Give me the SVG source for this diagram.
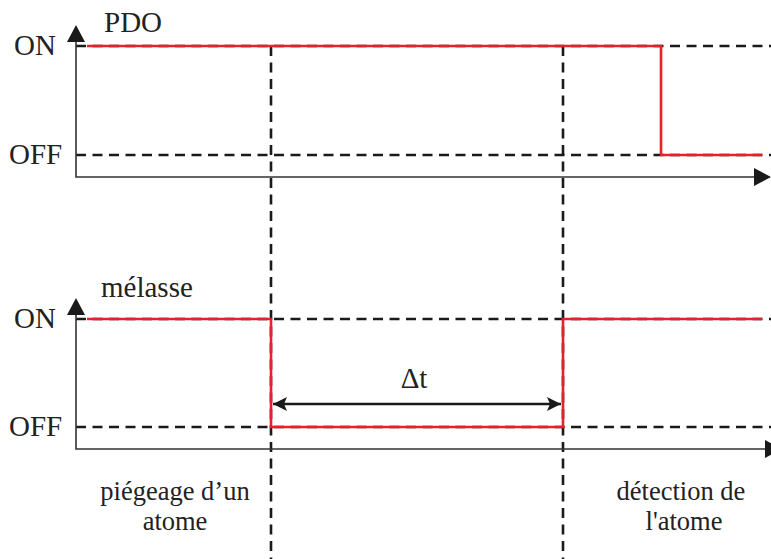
<svg xmlns="http://www.w3.org/2000/svg" width="771" height="559" viewBox="0 0 771 559">
<style>
.dash{stroke:#1a1a1a;stroke-width:2.6;stroke-dasharray:10 6.5;fill:none}
.axis{stroke:#333;stroke-width:1.6;fill:none}
.sig{stroke:#e8202a;stroke-width:2.6;fill:none}
</style>
<defs>
<marker id="ah" viewBox="0 0 14 14" refX="14" refY="7" markerWidth="14" markerHeight="14" markerUnits="userSpaceOnUse" orient="auto-start-reverse"><path d="M0,0 L14,7 L0,14 L3,7 z" fill="#1a1a1a"/></marker>
</defs>
<rect width="771" height="559" fill="#fff"/>
<g id="grid">
<line class="dash" x1="76" y1="46" x2="771" y2="46"/>
<line class="dash" x1="76" y1="155" x2="771" y2="155"/>
<line class="dash" x1="76" y1="319" x2="771" y2="319"/>
<line class="dash" x1="76" y1="427" x2="771" y2="427"/>
<line class="dash" x1="271" y1="46" x2="271" y2="559"/>
<line class="dash" x1="563" y1="46" x2="563" y2="559"/>
</g>
<g id="axes">
<polyline class="axis" points="76,40 76,177 760,177"/>
<path d="M67,42 L76,25 L85,42 z" fill="#1a1a1a"/>
<path d="M754,168 L771,177 L754,186 z" fill="#1a1a1a"/>
<polyline class="axis" points="76,313 76,449 766,449"/>
<path d="M67,315 L76,298 L85,315 z" fill="#1a1a1a"/>
<path d="M765,440 L782,449 L765,458 z" fill="#1a1a1a"/>
</g>
<g id="pdo-signal">
<polyline class="sig" points="87,46 661,46 661,155 762,155"/>
</g>
<g id="melasse-signal">
<polyline class="sig" points="87,319 271,319 271,427 563,427 563,319 762,319"/>
</g>
<g id="connectors">
<line x1="273" y1="404" x2="561" y2="404" stroke="#1a1a1a" stroke-width="2.4" marker-start="url(#ah)" marker-end="url(#ah)"/>
</g>
<g id="labels" fill="#222">
<text font-family="'Liberation Serif', serif" font-size="29" x="14" y="55">ON</text>
<text font-family="'Liberation Serif', serif" font-size="29" x="9" y="164">OFF</text>
<text font-family="'Liberation Serif', serif" font-size="29" x="104" y="32">PDO</text>
<text font-family="'Liberation Serif', serif" font-size="29" x="14" y="328">ON</text>
<text font-family="'Liberation Serif', serif" font-size="29" x="9" y="436">OFF</text>
<text font-family="'Liberation Serif', serif" font-size="29" x="101" y="297">mélasse</text>
<text font-family="'Liberation Serif', serif" font-size="29" x="414" y="388" text-anchor="middle">Δt</text>
<text font-family="'Liberation Serif', serif" font-size="26.5" x="175" y="500" text-anchor="middle">piégeage d’un</text>
<text font-family="'Liberation Serif', serif" font-size="26.5" x="175" y="530" text-anchor="middle">atome</text>
<text font-family="'Liberation Serif', serif" font-size="26.5" x="681" y="500" text-anchor="middle">détection de</text>
<text font-family="'Liberation Serif', serif" font-size="26.5" x="684" y="530" text-anchor="middle">l'atome</text>
</g>
</svg>
